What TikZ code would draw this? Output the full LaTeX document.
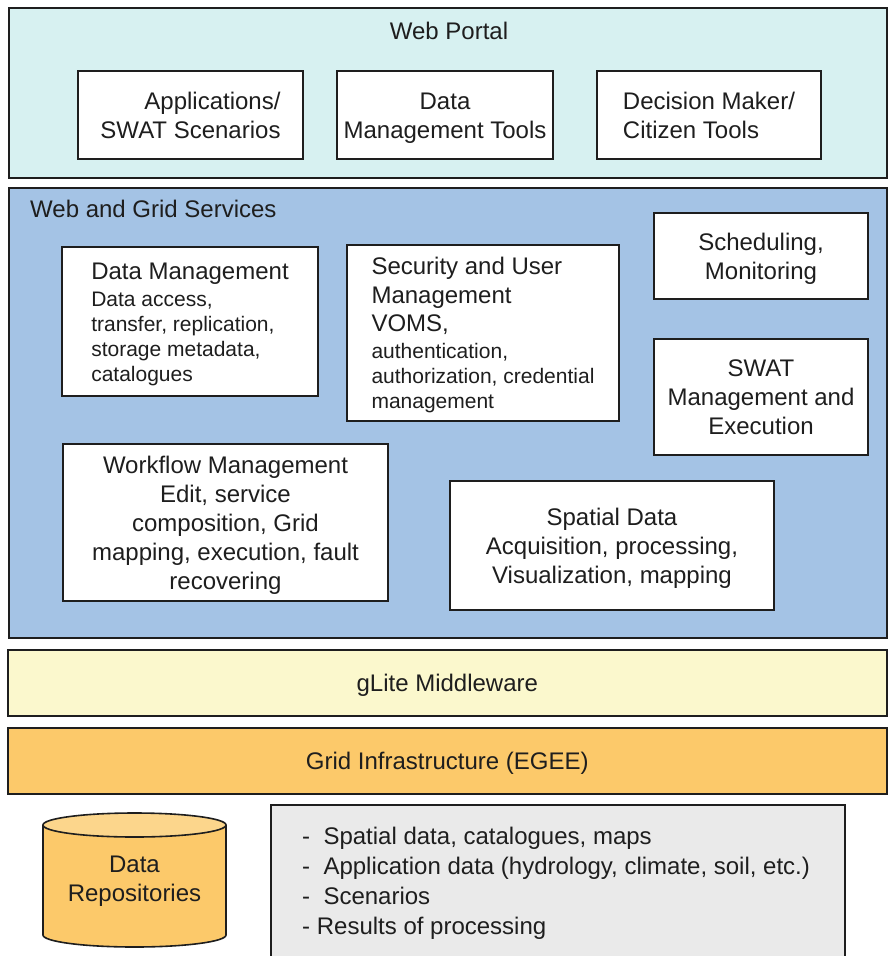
\documentclass[tikz,border=0pt]{standalone}
\usepackage{fontspec}
\setmainfont{Liberation Sans}
\usetikzlibrary{positioning}
\definecolor{portalcyan}{HTML}{D7F1F1}
\definecolor{serviceblue}{HTML}{A4C3E5}
\definecolor{glitecream}{HTML}{FBF8CD}
\definecolor{gridorange}{HTML}{FCC96A}
\definecolor{repotop}{HTML}{FCD68C}
\definecolor{listgrey}{HTML}{EAEAEA}
\definecolor{edgeblack}{HTML}{1E1E1E}
\newcommand{\txtbig}{\fontsize{24}{29}\selectfont}
\newcommand{\txtsmall}{\fontsize{21}{25}\selectfont}
\newcommand{\lift}{\rule{0pt}{22.2pt}}

\begin{document}
\begin{tikzpicture}[x=1pt, y=-1pt,
  sink/.style={execute at end node={\rule[-5pt]{0pt}{5pt}}},
  layer/.style={draw=edgeblack, line width=1.6pt, inner sep=0pt, anchor=north west, font=\txtbig, text=edgeblack,
    execute at begin node={\lift}, sink},
  box/.style={draw=edgeblack, line width=1.6pt, fill=white, inner sep=0pt, align=center, font=\txtbig, text=edgeblack, sink},
  title/.style={font=\txtbig, text=edgeblack, inner sep=0pt}]
\useasboundingbox (0,0) rectangle (888,956);
% layers
\node[layer, fill=portalcyan, minimum width=878pt, minimum height=170pt] (portal) at (8,7) {};
\node[layer, fill=serviceblue, minimum width=878pt, minimum height=450pt] (services) at (8,187) {};
\node[layer, fill=glitecream, minimum width=879pt, minimum height=66pt] (glite) at (7,649) {gLite Middleware};
\node[layer, fill=gridorange, minimum width=879pt, minimum height=66pt] (grid) at (7,727) {Grid Infrastructure (EGEE)};
\node[layer, fill=listgrey, minimum width=574pt, minimum height=170pt] (listbox) at (270,804) {};
\node[title] (portaltitle) at (449,31) {Web Portal};
\node[title, anchor=west] (servicestitle) at (30,209) {Web and Grid Services};
% portal tools
\node[box, align=right, minimum width=225pt, minimum height=88pt] (apps) at (190.5,115) {\lift Applications/\\SWAT Scenarios};
\node[box, minimum width=216pt, minimum height=88pt] (dmtools) at (445,115) {\lift Data\\Management Tools};
\node[box, align=left, minimum width=224pt, minimum height=88pt] (decision) at (709,115) {\lift Decision Maker/\\Citizen Tools};
% services
\node[box, align=left, font=\txtsmall, minimum width=256pt, minimum height=149pt] (datamgmt) at (190,321.5)
  {\lift\txtbig Data Management\\[2pt]\txtsmall Data access,\\transfer, replication,\\storage metadata,\\catalogues};
\node[box, align=left, font=\txtsmall, minimum width=272pt, minimum height=176pt] (security) at (483,333)
  {\lift\txtbig Security and User\\[4pt]\txtbig Management\\[3pt]\txtbig VOMS,\\[2pt]\txtsmall authentication,\\authorization, credential\\management};
\node[box, minimum width=214pt, minimum height=86pt] (sched) at (761,256) {\lift Scheduling,\\Monitoring};
\node[box, minimum width=214pt, minimum height=116pt] (swat) at (761,397) {\lift SWAT\\Management and\\Execution};
\node[box, minimum width=325pt, minimum height=157pt] (workflow) at (225.5,522.5)
  {\lift Workflow Management\\Edit, service\\composition, Grid\\mapping, execution, fault\\recovering};
\node[box, minimum width=324pt, minimum height=129pt] (spatial) at (612,545.5)
  {\lift Spatial Data\\Acquisition, processing,\\Visualization, mapping};
% data repositories
\filldraw[draw=edgeblack, line width=1.6pt, fill=gridorange]
  (43,825) -- (43,935) arc[start angle=180, end angle=360, x radius=91.5pt, y radius=12pt] -- (226,825);
\filldraw[draw=edgeblack, line width=1.6pt, fill=repotop] (134.5,825) ellipse [x radius=91.5pt, y radius=12pt];
\node[title, align=center] (repo) at (134.5,881) {Data\\Repositories};
\node[title, align=left, font=\fontsize{24}{30}\selectfont, anchor=west] (items) at (302,883.5)
  {-\ \ Spatial data, catalogues, maps\\-\ \ Application data (hydrology, climate, soil, etc.)\\-\ \ Scenarios\\- Results of processing};
\end{tikzpicture}
\end{document}
